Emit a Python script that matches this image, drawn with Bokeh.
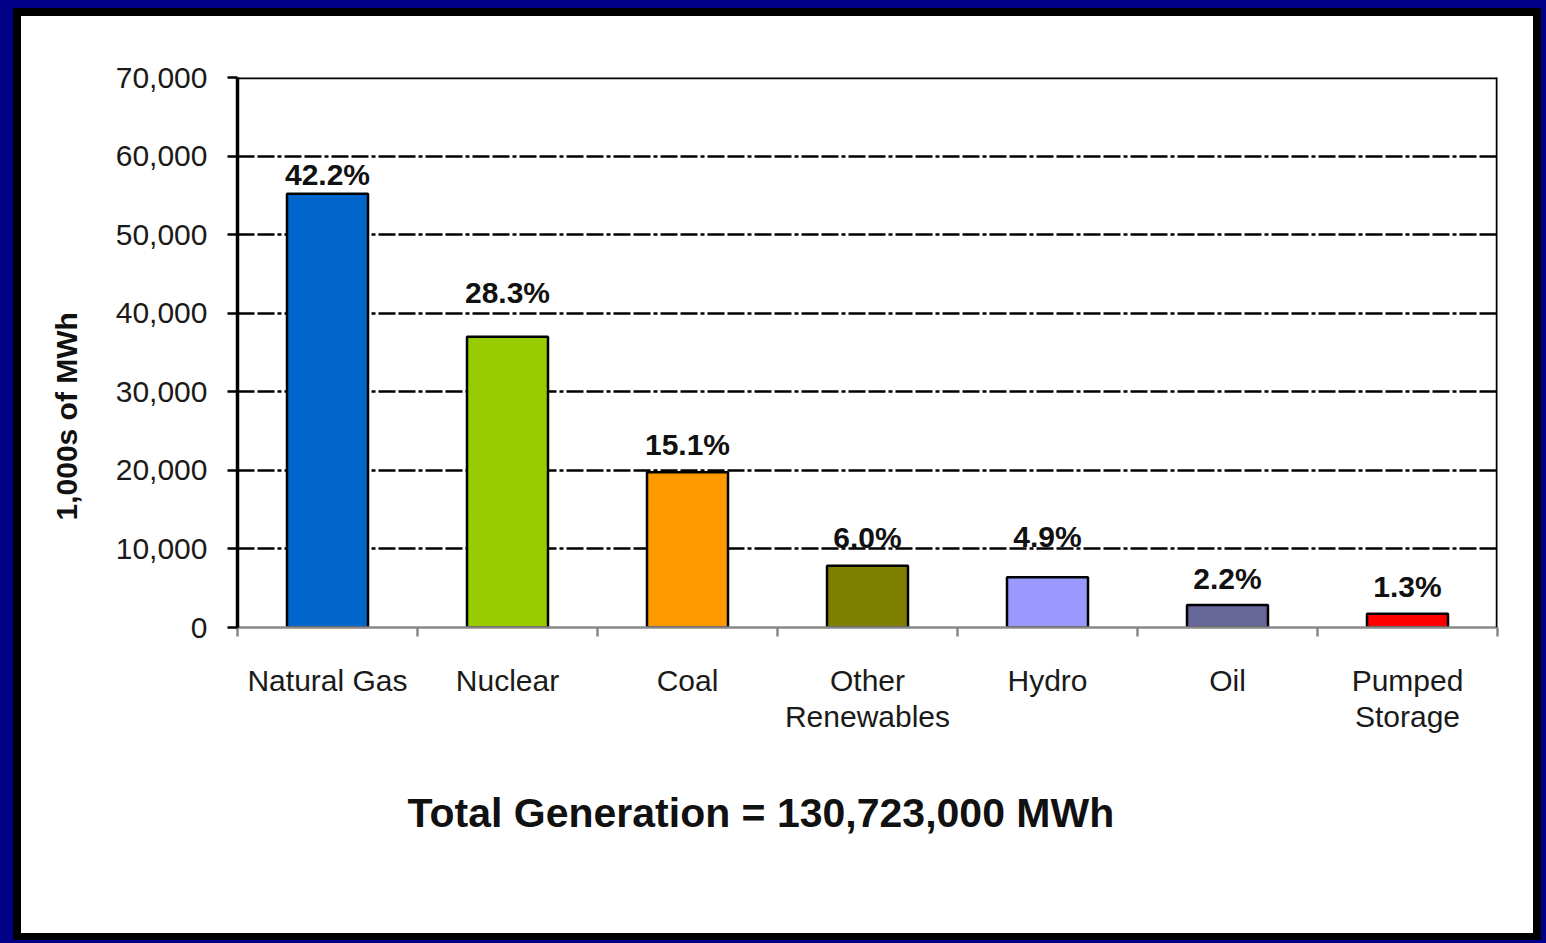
import numpy as np
from bokeh.plotting import figure
from bokeh.models import (Range1d, FixedTicker, NumeralTickFormatter, Span, Title,
                          ColumnDataSource)
from bokeh.core.properties import value
from bokeh.embed import file_html
from bokeh.resources import INLINE

# ---------------- data ----------------
categories = ["Natural Gas", "Nuclear", "Coal", "Other\nRenewables", "Hydro", "Oil", "Pumped\nStorage"]
generation = [55200, 37000, 19750, 7850, 6400, 2850, 1750]   # 1,000s of MWh
shares = ["42.2%", "28.3%", "15.1%", "6.0%", "4.9%", "2.2%", "1.3%"]
bar_colors = ["#0066CC", "#99CC00", "#FF9900", "#808000", "#9999FF", "#666699", "#FF0000"]
y_ticks = [0, 10000, 20000, 30000, 40000, 50000, 60000, 70000]
grid_ticks = [10000, 20000, 30000, 40000, 50000, 60000]
total_text = "Total Generation = 130,723,000 MWh"
y_label = "1,000s of MWh"

# label lift above bar top (screen px), styling only
label_lift = [19, 44, 28, 28, 41, 27, 27]

FONT = "Liberation Sans"
n = len(categories)
centers = np.arange(n) + 0.5
edges = np.arange(n + 1).astype(float)

src = ColumnDataSource(dict(x=centers, top=generation, color=bar_colors,
                            share=shares, lift=[-v for v in label_lift]))

p = figure(width=1546, height=943,
           x_range=Range1d(0, n), y_range=Range1d(0, y_ticks[-1]),
           output_backend="svg", toolbar_location=None,
           min_border_left=237, min_border_top=77, min_border_right=49, min_border_bottom=316,
           border_fill_color=None, background_fill_color="white",
           outline_line_color=None)

p.styles = {
    "background": "#ffffff",
    "box-shadow": ("inset 13px 8px 0 0 #000088, inset -5px -3px 0 0 #000088, "
                   "inset 21px 16px 0 0 #000000, inset -13px -10px 0 0 #000000"),
}

# grid
p.xgrid.visible = False
p.ygrid.ticker = FixedTicker(ticks=grid_ticks)
p.ygrid.grid_line_color = "black"
p.ygrid.grid_line_width = 2.5
p.ygrid.grid_line_dash = "17 3 17 3 4 3"

# frame top & right
p.add_layout(Span(location=y_ticks[-1], dimension="width", line_color="black", line_width=3.5))
p.add_layout(Span(location=n, dimension="height", line_color="black", line_width=3.5))

# bars
p.vbar(x="x", top="top", width=0.45, fill_color="color", line_color="black",
       line_width=2.5, source=src)

# value labels
p.text(x="x", y="top", text="share", y_offset="lift", source=src,
       text_font=value(FONT), text_font_style="bold", text_font_size="30px",
       text_align="center", text_baseline="middle", text_color="#111111")

# x axis
xa = p.xaxis[0]
xa.ticker = FixedTicker(ticks=[float(c) for c in centers], minor_ticks=[float(e) for e in edges])
xa.major_label_overrides = {float(c): lab for c, lab in zip(centers, categories)}
xa.major_tick_line_color = None
xa.major_tick_out = 0
xa.major_tick_in = 0
xa.minor_tick_line_color = "#888888"
xa.minor_tick_line_width = 2.5
xa.minor_tick_out = 9
xa.minor_tick_in = 0
xa.axis_line_color = "#888888"
xa.axis_line_width = 2.5
xa.major_label_text_font = FONT
xa.major_label_text_font_size = "30px"
xa.major_label_text_color = "#1a1a1a"
xa.major_label_text_line_height = 1.12
xa.major_label_standoff = 27

# y axis
ya = p.yaxis[0]
ya.ticker = FixedTicker(ticks=y_ticks, minor_ticks=[])
ya.formatter = NumeralTickFormatter(format="0,0")
ya.axis_line_color = "black"
ya.axis_line_width = 3.5
ya.major_tick_line_color = "black"
ya.major_tick_line_width = 2.5
ya.major_tick_out = 10
ya.major_tick_in = 0
ya.minor_tick_line_color = None
ya.major_label_text_font = FONT
ya.major_label_text_font_size = "30px"
ya.major_label_text_color = "#1a1a1a"
ya.major_label_standoff = 20

# y axis title (offset from the bottom of the frame, like the original)
yt = Title(text=y_label, align="left", offset=107, vertical_align="bottom",
           text_font=FONT, text_font_style="bold", text_font_size="30px",
           text_color="#111111", standoff=60)
p.add_layout(yt, "left")

# bottom title
t = Title(text=total_text, align="left", offset=170, text_font=FONT,
          text_font_style="bold", text_font_size="41px", text_color="#111111",
          standoff=102)
p.add_layout(t, "below")

html = file_html(p, INLINE)
html = html.replace("</head>",
                    "<style>html,body{background:#000088;margin:0;padding:0;overflow:hidden;}</style></head>", 1)
open("out.html", "w").write(html)
